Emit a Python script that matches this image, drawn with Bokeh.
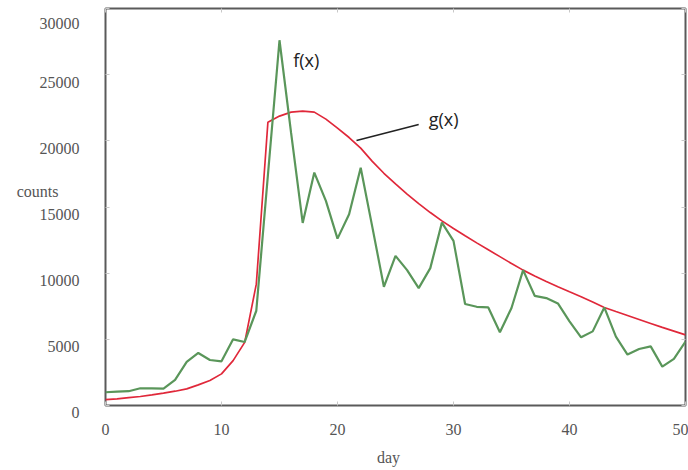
from bokeh.plotting import figure
from bokeh.models import Range1d, LinearAxis, FixedTicker, Label
from bokeh.embed import file_html
from bokeh.resources import INLINE

days = list(range(51))
f_counts = [1000, 1050, 1080, 1300, 1300, 1280, 1940, 3300, 3970, 3440,
            3340, 5000, 4800, 7160, 17400, 27600, 20600, 13800, 17600, 15460,
            12610, 14450, 17970, 13500, 8970, 11310, 10230, 8870, 10380, 13820,
            12440, 7670, 7460, 7410, 5530, 7370, 10230, 8290, 8120, 7710,
            6360, 5150, 5600, 7410, 5200, 3850, 4270, 4470, 2940, 3520,
            4830]
g_counts = [450, 500, 600, 680, 800, 930, 1080, 1260, 1560, 1890,
            2390, 3390, 4770, 9170, 21400, 21870, 22170, 22240, 22170, 21640,
            20960, 20250, 19450, 18450, 17550, 16750, 15980, 15250, 14580, 13950,
            13380, 12830, 12290, 11770, 11250, 10730, 10230, 9780, 9370, 8970,
            8590, 8220, 7820, 7410, 7100, 6800, 6500, 6200, 5900, 5620,
            5340]
x_ticks = [0, 10, 20, 30, 40, 50]
y_ticks = [0, 5000, 10000, 15000, 20000, 25000, 30000]
y_title = "counts"
y_title_at = 16200
x_title = "day"
x_title_at = 24.4

FRAME = "#5a5a5a"
TICK = "#c8c8c8"
LABEL = "#555555"
SERIF = "Liberation Serif"

p = figure(width=688, height=470, output_backend="svg", toolbar_location=None,
           x_range=Range1d(0, 50), y_range=Range1d(0, 30000),
           min_border_left=105, min_border_right=3, min_border_top=8,
           min_border_bottom=65, x_axis_type=None, y_axis_type=None)
p.grid.visible = False
p.outline_line_color = FRAME
p.outline_line_width = 2
p.background_fill_color = "white"
p.border_fill_color = "white"


def base(ax):
    ax.axis_line_color = None
    ax.major_tick_in = 4
    ax.major_tick_out = 0
    ax.major_tick_line_color = TICK
    ax.major_tick_line_width = 1
    ax.minor_tick_line_color = None


def text_style(ax, standoff):
    ax.major_label_text_font = SERIF
    ax.major_label_text_font_size = "16px"
    ax.major_label_text_color = LABEL
    ax.major_label_standoff = standoff


def title_axis(ax, standoff, at, text):
    ax.axis_line_color = None
    ax.major_tick_line_color = None
    ax.minor_tick_line_color = None
    ax.major_tick_in = 0
    ax.major_tick_out = 0
    text_style(ax, standoff)
    ax.major_label_overrides = {at: text}


def blank(ax):
    base(ax)
    ax.major_label_overrides = {t: "" for t in ax.ticker.ticks}
    ax.major_label_text_font_size = "1px"
    ax.major_label_standoff = 0


xb = LinearAxis(ticker=FixedTicker(ticks=x_ticks))
base(xb)
text_style(xb, 18)
p.add_layout(xb, "below")

xtitle = LinearAxis(ticker=FixedTicker(ticks=[x_title_at]))
title_axis(xtitle, 11, x_title_at, x_title)
p.add_layout(xtitle, "below")

# y tick labels sit a little below their ticks in the reference:
# an empty first line pushes the visible line down
yl = LinearAxis(ticker=FixedTicker(ticks=y_ticks))
base(yl)
text_style(yl, 26)
yl.major_label_overrides = {t: "\n" + str(t) for t in y_ticks}
yl.major_label_text_line_height = 0.875
p.add_layout(yl, "left")

yt = LinearAxis(ticker=FixedTicker(ticks=[y_title_at]))
title_axis(yt, -22, y_title_at, y_title)
p.add_layout(yt, "left")

xt = LinearAxis(ticker=FixedTicker(ticks=x_ticks))
blank(xt)
p.add_layout(xt, "above")

yr = LinearAxis(ticker=FixedTicker(ticks=y_ticks))
blank(yr)
p.add_layout(yr, "right")

p.line(days, g_counts, line_color="#e0283a", line_width=1.7)
p.line(days, f_counts, line_color="#5a965a", line_width=2.2)

# annotation leader line
p.line([21.64, 27.0], [20030, 21240], line_color="#222222", line_width=1.6)

p.add_layout(Label(x=16.18, y=26100, text="f(x)", text_font="Open Sans",
                   text_font_size="18px", text_color="#222222",
                   text_baseline="middle", text_align="left"))
p.add_layout(Label(x=27.86, y=21650, text="g(x)", text_font="Open Sans",
                   text_font_size="18px", text_color="#222222",
                   text_baseline="middle", text_align="left"))

open("out.html", "w").write(file_html(p, INLINE))
